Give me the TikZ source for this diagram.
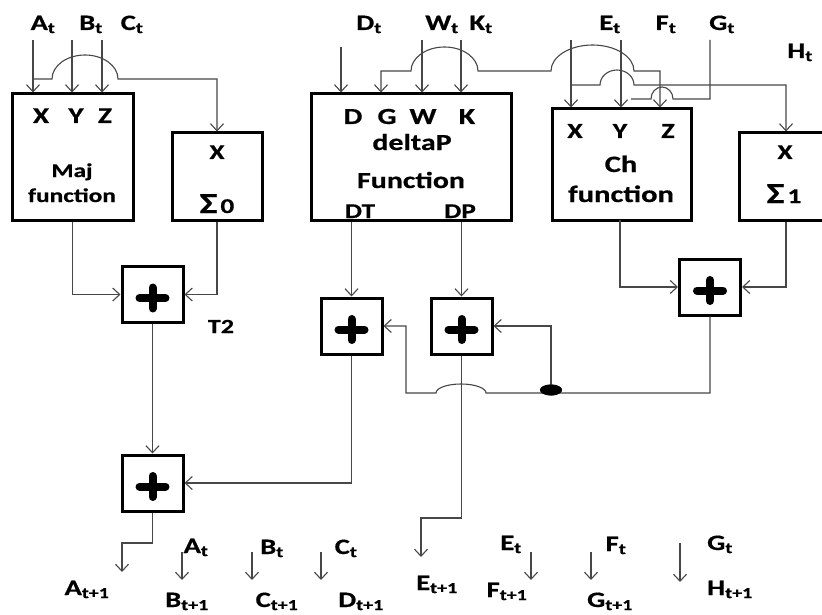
\documentclass[tikz,border=0pt]{standalone}
\usepackage{fontspec}
\setmainfont{Carlito}[FakeStretch=1.3, BoldFeatures={FakeBold=0.6}]
\usetikzlibrary{arrows.meta,shapes.geometric}
\newcommand\sbt[1]{\textsubscript{#1}}
\begin{document}
\begin{tikzpicture}[x=1pt,y=1pt,
  conn/.style={draw=black!72, line width=1.1pt},
  arr/.style={conn,-{Straight Barb[length=7pt,width=13pt]}},
  darr/.style={conn,{Straight Barb[length=7pt,width=13pt]}-{Straight Barb[length=7pt,width=13pt]}},
  blk/.style={draw=black, line width=3pt, inner sep=0pt, fill=white},
  plusbox/.style={blk, minimum width=61pt, minimum height=56pt,
    path picture={
      \draw[line width=8pt, line cap=round, black]
        ([shift={(-13pt,-3.5pt)}]path picture bounding box.center) -- ([shift={(13pt,-3.5pt)}]path picture bounding box.center)
        ([shift={(0pt,7pt)}]path picture bounding box.center) -- ([shift={(0pt,-14pt)}]path picture bounding box.center);
    }},
  tx/.style={inner sep=0pt, anchor=base, font=\bfseries\fontsize{#1}{#1}\selectfont},
  dotnode/.style={ellipse, fill=black, inner sep=0pt, minimum width=22pt, minimum height=11pt}
]
\useasboundingbox (0,0) rectangle (822,-615);

% ---------- big boxes ----------
\node[blk, minimum width=121pt, minimum height=126pt] (maj) at (72.5,-157) {};
\node[blk, minimum width=90pt,  minimum height=87pt]  (s0)  at (217,-176.5) {};
\node[blk, minimum width=200pt, minimum height=126pt] (dp)  at (411,-157) {};
\node[blk, minimum width=139pt, minimum height=111pt] (ch)  at (621.5,-164.5) {};
\node[blk, minimum width=94pt,  minimum height=87pt]  (s1)  at (786,-176.5) {};

% ---------- adders ----------
\node[plusbox] (p1) at (152.5,-294.5) {};
\node[plusbox] (p2) at (351.5,-326) {};
\node[plusbox] (p3) at (461.5,-326) {};
\node[plusbox] (p4) at (710,-287) {};
\node[plusbox] (p5) at (152.5,-483) {};

% ---------- box texts ----------
\node[tx=22.5] (mx) at (41,-123) {X};
\node[tx=22.5] (my) at (76,-123) {Y};
\node[tx=22.5] (mz) at (105,-123) {Z};
\node[tx=19.5] (mt1) at (72,-177) {Maj};
\node[tx=19.5] (mt2) at (72,-202) {function};

\node[tx=21] (s0x) at (217,-159) {X};
\node[tx=21] (s0s) at (217,-213) {{\fontsize{29}{29}\selectfont Σ}\hspace{3pt}0};

\node[tx=23] (dd) at (353,-124) {D};
\node[tx=23] (dg) at (387,-124) {G};
\node[tx=23] (dw) at (423,-124) {W};
\node[tx=23] (dk) at (467,-124) {K};
\node[tx=23] (dt1) at (412,-150) {deltaP};
\node[tx=23] (dt2) at (411,-188) {Function};
\node[tx=21] (dT) at (360,-218) {DT};
\node[tx=21] (dP) at (460,-218) {DP};

\node[tx=21.5] (cx) at (575,-138) {X};
\node[tx=21.5] (cy) at (620,-138) {Y};
\node[tx=21.5] (cz) at (668,-138) {Z};
\node[tx=23.5] (ct1) at (621,-172) {Ch};
\node[tx=23.5] (ct2) at (621,-202) {function};

\node[tx=21] (s1x) at (785,-159) {X};
\node[tx=21] (s1s) at (784,-203) {{\fontsize{29}{29}\selectfont Σ}\hspace{3pt}1};

\node[tx=20] (t2) at (221,-333) {T2};

% ---------- top labels ----------
\node[tx=22] (lA) at (43,-30) {A\sbt{t}};
\node[tx=22] (lB) at (91,-30) {B\sbt{t}};
\node[tx=22] (lC) at (132,-30) {C\sbt{t}};
\node[tx=22] (lD) at (369,-30) {D\sbt{t}};
\node[tx=22] (lW) at (442,-30) {W\sbt{t}};
\node[tx=22] (lK) at (481,-30) {K\sbt{t}};
\node[tx=22] (lE) at (610,-30) {E\sbt{t}};
\node[tx=22] (lF) at (666,-30) {F\sbt{t}};
\node[tx=22] (lG) at (722,-30) {G\sbt{t}};
\node[tx=22] (lH) at (800,-58) {H\sbt{t}};

% ---------- bottom labels ----------
\node[tx=22] (oA)  at (87,-595)  {A\sbt{t+1}};
\node[tx=22] (iA)  at (196,-553) {A\sbt{t}};
\node[tx=22] (oB)  at (187,-607) {B\sbt{t+1}};
\node[tx=22] (iB)  at (272,-554) {B\sbt{t}};
\node[tx=22] (oC)  at (277,-607) {C\sbt{t+1}};
\node[tx=22] (iC)  at (346,-554) {C\sbt{t}};
\node[tx=22] (oD)  at (361,-607) {D\sbt{t+1}};
\node[tx=22] (oE)  at (437,-590) {E\sbt{t+1}};
\node[tx=22] (iE)  at (511,-550) {E\sbt{t}};
\node[tx=22] (oF)  at (507,-597) {F\sbt{t+1}};
\node[tx=22] (iF)  at (616,-551) {F\sbt{t}};
\node[tx=22] (oG)  at (610,-607) {G\sbt{t+1}};
\node[tx=22] (iG)  at (720,-550) {G\sbt{t}};
\node[tx=22] (oH)  at (730,-595) {H\sbt{t+1}};

% ---------- input line coordinates ----------
\coordinate (tA) at (33,-40);
\coordinate (tB) at (72,-40);
\coordinate (tC) at (102,-40);
\coordinate (jA) at (33,-79);
\coordinate (tD) at (341,-47);
\coordinate (tW) at (422,-40);
\coordinate (tK) at (461,-40);
\coordinate (gG) at (381,-71);
\coordinate (tE) at (571,-40);
\coordinate (jE) at (571,-85);
\coordinate (tF) at (621,-40);
\coordinate (tG) at (710,-40);
\coordinate (zC) at (660,-71);

% ---------- top connectors ----------
\draw[arr] (tA) -- (tA |- maj.north);
\draw[arr] (tB) -- (tB |- maj.north);
\draw[arr] (tC) -- (tC |- maj.north);
\draw[arr] (jA) -- (52,-79) arc[start angle=180,end angle=0,x radius=33pt,y radius=24pt] -- (217,-79) -- (s0.north);

\draw[arr] (tD) -- (tD |- dp.north);
\draw[arr] (tW) -- (tW |- dp.north);
\draw[arr] (tK) -- (tK |- dp.north);
\draw[darr] (gG |- dp.north) -- (gG) -- (411,-71)
   arc[start angle=180,end angle=0,x radius=33.5pt,y radius=24pt] -- (551,-71)
   arc[start angle=180,end angle=0,x radius=41.5pt,y radius=26pt] -- (zC) -- (zC |- ch.north);

\draw[arr] (tE) -- (tE |- ch.north);
\draw[arr] (jE) -- (600,-85) arc[start angle=180,end angle=0,x radius=17pt,y radius=15pt] -- (786,-85) -- (s1.north);
\draw[arr] (tF) -- (tF |- ch.north);
\draw[conn] (tG) -- (710,-99) -- (673,-99) arc[start angle=0,end angle=180,x radius=11pt,y radius=12pt] -- (631,-99);

% ---------- lower connectors ----------
\draw[arr] (maj.south) |- (p1.west);
\draw[arr] (s0.south) |- (p1.east);
\draw[arr] (p1.south) -- (p5.north);
\draw[arr] (p2.north |- dp.south) -- (p2.north);
\draw[arr] (p3.north |- dp.south) -- (p3.north);
\draw[arr] (620,-220) |- (p4.west);
\draw[arr] (s1.south) |- (p4.east);

\node[dotnode] (dot) at (551,-390) {};
\draw[arr] (p4.south) -- (710,-393) -- (486,-393)
   arc[start angle=0,end angle=180,x radius=25pt,y radius=9pt] -- (406,-393) -- (406,-326) -- (p2.east);
\draw[arr] (dot.center) |- (p3.east);
\node[dotnode] at (dot) {};
\draw[arr] (p2.south) |- (p5.east);

\coordinate (eA) at (122,-572);
\coordinate (eE) at (421,-557);
\draw[arr] (p5.south) -- (152.5,-543) -- (122,-543) -- (eA);
\draw[arr] (p3.south) -- (461.5,-518) -- (421,-518) -- (eE);

% ---------- small shift arrows ----------
\draw[arr] (182,-552) -- (182,-580);
\draw[arr] (252,-552) -- (252,-580);
\draw[arr] (321,-552) -- (321,-580);
\draw[arr] (531,-552) -- (531,-580);
\draw[arr] (591,-552) -- (591,-580);
\draw[arr] (680,-543) -- (680,-582);
\end{tikzpicture}
\end{document}
